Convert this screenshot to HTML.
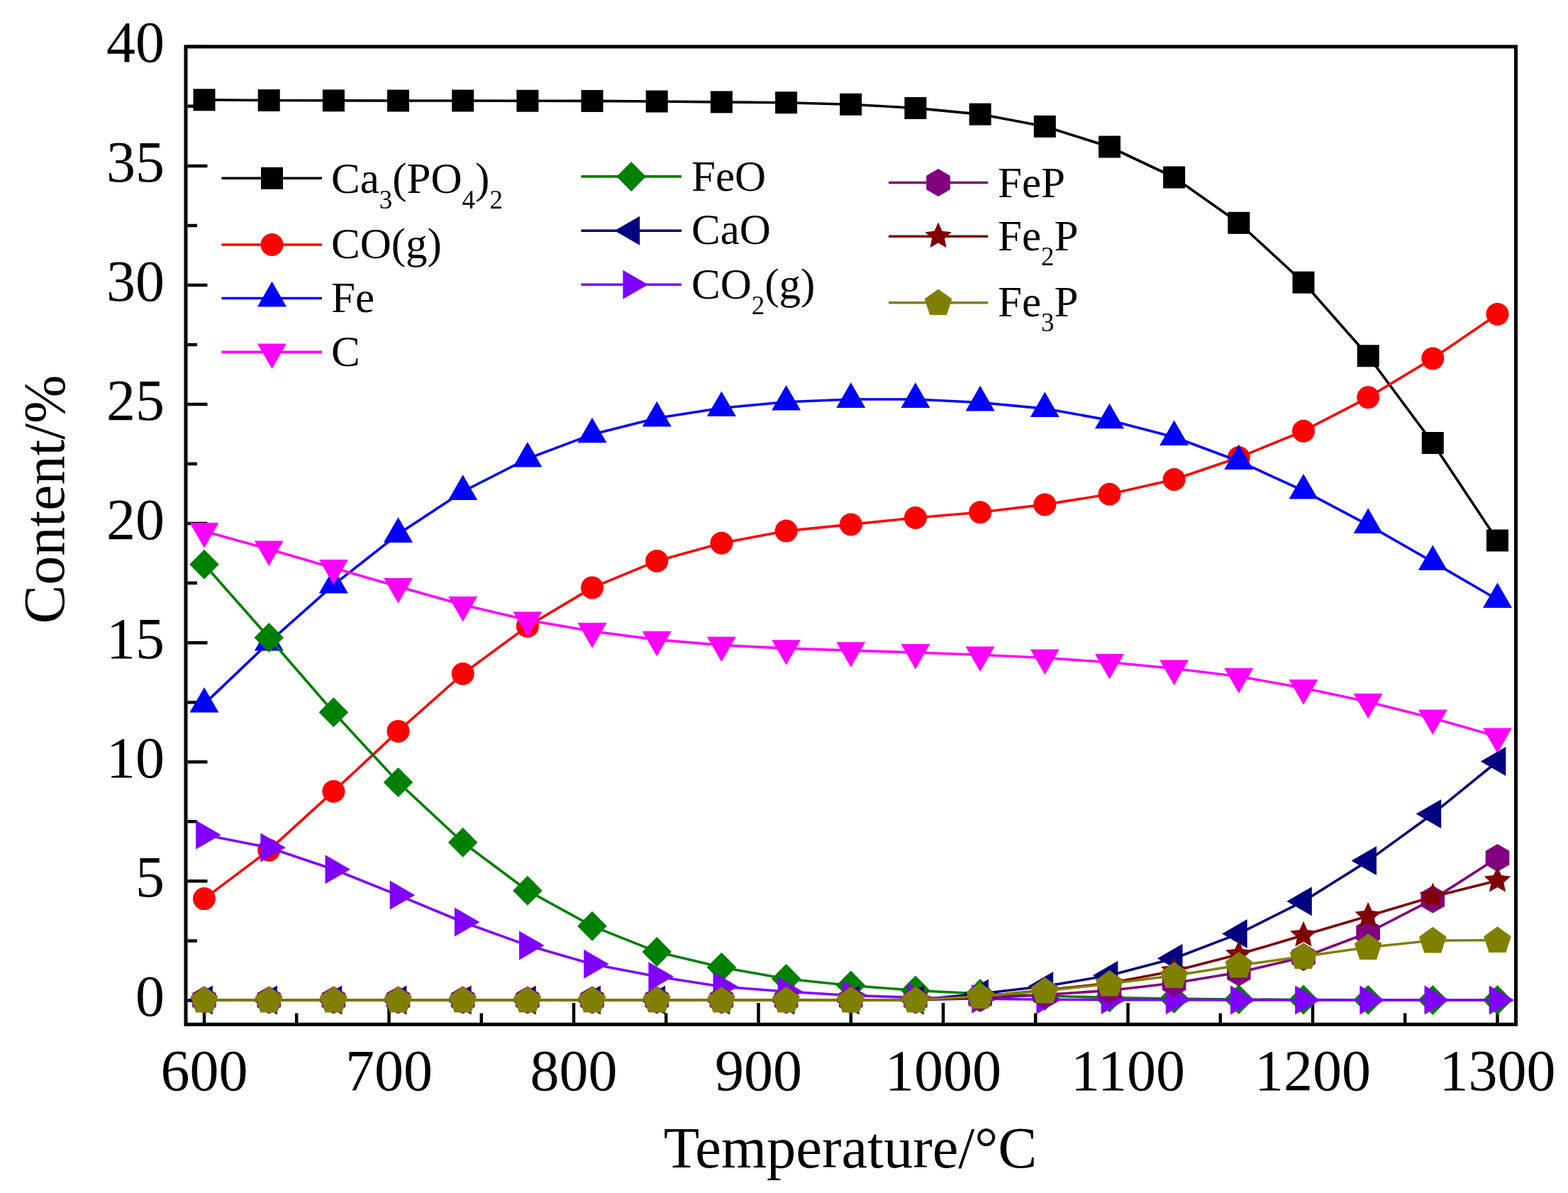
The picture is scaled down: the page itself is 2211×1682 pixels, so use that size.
<!DOCTYPE html><html><head><meta charset="utf-8"><title>Content vs Temperature</title><style>html,body{margin:0;padding:0;background:#fff;}svg{display:block;}text{font-family:"Liberation Serif","Times New Roman",serif;fill:#000;}</style></head><body>
<svg width="2211" height="1682" viewBox="0 0 2211 1682">
<rect width="2211" height="1682" fill="#fff"/>
<path d="M264.5,1410.4H292.5M264.5,1326.4H278M264.5,1242.3H292.5M264.5,1158.3H278M264.5,1074.2H292.5M264.5,990.2H278M264.5,906.2H292.5M264.5,822.1H278M264.5,738.1H292.5M264.5,654.1H278M264.5,570H292.5M264.5,486H278M264.5,402H292.5M264.5,317.9H278M264.5,233.9H292.5M264.5,149.8H278M264.5,65.8H292.5M288,1442V1414M418.2,1442V1428.5M548.5,1442V1414M678.8,1442V1428.5M809,1442V1414M939.2,1442V1428.5M1069.5,1442V1414M1199.8,1442V1428.5M1330,1442V1414M1460.2,1442V1428.5M1590.5,1442V1414M1720.8,1442V1428.5M1851,1442V1414M1981.2,1442V1428.5M2111.5,1442V1414" stroke="#000" stroke-width="4.5" fill="none"/>
<g fill="#000000" stroke="none"><path d="M288,140.8 L379.2,141.5 L470.4,141.8 L561.5,142 L652.7,142 L743.9,142.2 L835,142.4 L926.2,143 L1017.4,143.9 L1108.6,144.7 L1199.8,147.2 L1290.9,152.4 L1382.1,161.1 L1473.3,178.3 L1564.5,207 L1655.6,250 L1746.8,314.3 L1838,398.2 L1929.2,501.8 L2020.3,624.5 L2111.5,762" fill="none" stroke="#000000" stroke-width="3.6" stroke-linejoin="round"/>
<rect x="272.5" y="125.3" width="31" height="31"/>
<rect x="363.7" y="126" width="31" height="31"/>
<rect x="454.9" y="126.3" width="31" height="31"/>
<rect x="546" y="126.5" width="31" height="31"/>
<rect x="637.2" y="126.5" width="31" height="31"/>
<rect x="728.4" y="126.7" width="31" height="31"/>
<rect x="819.5" y="126.9" width="31" height="31"/>
<rect x="910.7" y="127.5" width="31" height="31"/>
<rect x="1001.9" y="128.4" width="31" height="31"/>
<rect x="1093.1" y="129.2" width="31" height="31"/>
<rect x="1184.2" y="131.7" width="31" height="31"/>
<rect x="1275.4" y="136.9" width="31" height="31"/>
<rect x="1366.6" y="145.6" width="31" height="31"/>
<rect x="1457.8" y="162.8" width="31" height="31"/>
<rect x="1549" y="191.5" width="31" height="31"/>
<rect x="1640.1" y="234.5" width="31" height="31"/>
<rect x="1731.3" y="298.8" width="31" height="31"/>
<rect x="1822.5" y="382.7" width="31" height="31"/>
<rect x="1913.7" y="486.3" width="31" height="31"/>
<rect x="2004.8" y="609" width="31" height="31"/>
<rect x="2096" y="746.5" width="31" height="31"/>
</g>
<g fill="#ff0000" stroke="none"><path d="M288,1267.1 L379.2,1198.6 L470.4,1115.7 L561.5,1030.9 L652.7,950 L743.9,882.9 L835,828.6 L926.2,790.9 L1017.4,765.7 L1108.6,748.6 L1199.8,739.4 L1290.9,730 L1382.1,722.3 L1473.3,711.4 L1564.5,696.7 L1655.6,676 L1746.8,645 L1838,607.7 L1929.2,560.3 L2020.3,505.4 L2111.5,442.9" fill="none" stroke="#ff0000" stroke-width="3.6" stroke-linejoin="round"/>
<circle cx="288" cy="1267.1" r="16"/>
<circle cx="379.2" cy="1198.6" r="16"/>
<circle cx="470.4" cy="1115.7" r="16"/>
<circle cx="561.5" cy="1030.9" r="16"/>
<circle cx="652.7" cy="950" r="16"/>
<circle cx="743.9" cy="882.9" r="16"/>
<circle cx="835" cy="828.6" r="16"/>
<circle cx="926.2" cy="790.9" r="16"/>
<circle cx="1017.4" cy="765.7" r="16"/>
<circle cx="1108.6" cy="748.6" r="16"/>
<circle cx="1199.8" cy="739.4" r="16"/>
<circle cx="1290.9" cy="730" r="16"/>
<circle cx="1382.1" cy="722.3" r="16"/>
<circle cx="1473.3" cy="711.4" r="16"/>
<circle cx="1564.5" cy="696.7" r="16"/>
<circle cx="1655.6" cy="676" r="16"/>
<circle cx="1746.8" cy="645" r="16"/>
<circle cx="1838" cy="607.7" r="16"/>
<circle cx="1929.2" cy="560.3" r="16"/>
<circle cx="2020.3" cy="505.4" r="16"/>
<circle cx="2111.5" cy="442.9" r="16"/>
</g>
<g fill="#0000ff" stroke="none"><path d="M288,992.6 L379.2,905.6 L470.4,824.7 L561.5,753 L652.7,693 L743.9,646.7 L835,612.4 L926.2,589.5 L1017.4,575.2 L1108.6,566.7 L1199.8,563 L1290.9,563 L1382.1,567.5 L1473.3,576.1 L1564.5,592.4 L1655.6,616.2 L1746.8,650.2 L1838,691.8 L1929.2,740.1 L2020.3,792.3 L2111.5,845.3" fill="none" stroke="#0000ff" stroke-width="3.6" stroke-linejoin="round"/>
<polygon points="288,968.9 308.5,1004.5 267.5,1004.5"/>
<polygon points="379.2,881.9 399.7,917.5 358.7,917.5"/>
<polygon points="470.4,801 490.9,836.6 449.8,836.6"/>
<polygon points="561.5,729.3 582,764.9 541,764.9"/>
<polygon points="652.7,669.3 673.2,704.9 632.2,704.9"/>
<polygon points="743.9,623 764.4,658.6 723.4,658.6"/>
<polygon points="835,588.7 855.6,624.2 814.5,624.2"/>
<polygon points="926.2,565.8 946.7,601.4 905.7,601.4"/>
<polygon points="1017.4,551.5 1037.9,587.1 996.9,587.1"/>
<polygon points="1108.6,543 1129.1,578.6 1088.1,578.6"/>
<polygon points="1199.8,539.3 1220.3,574.9 1179.2,574.9"/>
<polygon points="1290.9,539.3 1311.4,574.9 1270.4,574.9"/>
<polygon points="1382.1,543.8 1402.6,579.4 1361.6,579.4"/>
<polygon points="1473.3,552.4 1493.8,588 1452.8,588"/>
<polygon points="1564.5,568.7 1585,604.2 1543.9,604.2"/>
<polygon points="1655.6,592.5 1676.1,628.1 1635.1,628.1"/>
<polygon points="1746.8,626.5 1767.3,662.1 1726.3,662.1"/>
<polygon points="1838,668.1 1858.5,703.6 1817.5,703.6"/>
<polygon points="1929.2,716.4 1949.7,752 1908.6,752"/>
<polygon points="2020.3,768.6 2040.8,804.1 1999.8,804.1"/>
<polygon points="2111.5,821.6 2132,857.1 2091,857.1"/>
</g>
<g fill="#ff00ff" stroke="none"><path d="M288,749 L379.2,774.3 L470.4,800.7 L561.5,827 L652.7,852.8 L743.9,874.3 L835,890 L926.2,901.9 L1017.4,909.6 L1108.6,914.1 L1199.8,917.1 L1290.9,920 L1382.1,923.2 L1473.3,927.5 L1564.5,933.8 L1655.6,942.5 L1746.8,953.7 L1838,970 L1929.2,989.6 L2020.3,1012.4 L2111.5,1038.4" fill="none" stroke="#ff00ff" stroke-width="3.6" stroke-linejoin="round"/>
<polygon points="288,772.7 267.5,737.1 308.5,737.1"/>
<polygon points="379.2,798 358.7,762.4 399.7,762.4"/>
<polygon points="470.4,824.4 449.8,788.9 490.9,788.9"/>
<polygon points="561.5,850.7 541,815.1 582,815.1"/>
<polygon points="652.7,876.5 632.2,840.9 673.2,840.9"/>
<polygon points="743.9,898 723.4,862.4 764.4,862.4"/>
<polygon points="835,913.7 814.5,878.1 855.6,878.1"/>
<polygon points="926.2,925.6 905.7,890 946.7,890"/>
<polygon points="1017.4,933.3 996.9,897.8 1037.9,897.8"/>
<polygon points="1108.6,937.8 1088.1,902.2 1129.1,902.2"/>
<polygon points="1199.8,940.8 1179.2,905.2 1220.3,905.2"/>
<polygon points="1290.9,943.7 1270.4,908.1 1311.4,908.1"/>
<polygon points="1382.1,946.9 1361.6,911.4 1402.6,911.4"/>
<polygon points="1473.3,951.2 1452.8,915.6 1493.8,915.6"/>
<polygon points="1564.5,957.5 1543.9,921.9 1585,921.9"/>
<polygon points="1655.6,966.2 1635.1,930.6 1676.1,930.6"/>
<polygon points="1746.8,977.4 1726.3,941.9 1767.3,941.9"/>
<polygon points="1838,993.7 1817.5,958.1 1858.5,958.1"/>
<polygon points="1929.2,1013.3 1908.6,977.8 1949.7,977.8"/>
<polygon points="2020.3,1036.1 1999.8,1000.5 2040.8,1000.5"/>
<polygon points="2111.5,1062.1 2091,1026.6 2132,1026.6"/>
</g>
<g fill="#008000" stroke="none"><path d="M288,795.7 L379.2,899 L470.4,1004.3 L561.5,1102.9 L652.7,1187.7 L743.9,1255.7 L835,1305.7 L926.2,1341.9 L1017.4,1363.8 L1108.6,1380 L1199.8,1389.5 L1290.9,1396.5 L1382.1,1401 L1473.3,1404 L1564.5,1406.5 L1655.6,1408 L1746.8,1409 L1838,1409.5 L1929.2,1409.8 L2020.3,1410 L2111.5,1410" fill="none" stroke="#008000" stroke-width="3.6" stroke-linejoin="round"/>
<polygon points="288,774.7 308.8,795.7 288,816.7 267.2,795.7"/>
<polygon points="379.2,878 400,899 379.2,920 358.4,899"/>
<polygon points="470.4,983.3 491.2,1004.3 470.4,1025.3 449.6,1004.3"/>
<polygon points="561.5,1081.9 582.3,1102.9 561.5,1123.9 540.7,1102.9"/>
<polygon points="652.7,1166.7 673.5,1187.7 652.7,1208.7 631.9,1187.7"/>
<polygon points="743.9,1234.7 764.7,1255.7 743.9,1276.7 723.1,1255.7"/>
<polygon points="835,1284.7 855.8,1305.7 835,1326.7 814.2,1305.7"/>
<polygon points="926.2,1320.9 947,1341.9 926.2,1362.9 905.4,1341.9"/>
<polygon points="1017.4,1342.8 1038.2,1363.8 1017.4,1384.8 996.6,1363.8"/>
<polygon points="1108.6,1359 1129.4,1380 1108.6,1401 1087.8,1380"/>
<polygon points="1199.8,1368.5 1220.5,1389.5 1199.8,1410.5 1179,1389.5"/>
<polygon points="1290.9,1375.5 1311.7,1396.5 1290.9,1417.5 1270.1,1396.5"/>
<polygon points="1382.1,1380 1402.9,1401 1382.1,1422 1361.3,1401"/>
<polygon points="1473.3,1383 1494.1,1404 1473.3,1425 1452.5,1404"/>
<polygon points="1564.5,1385.5 1585.2,1406.5 1564.5,1427.5 1543.7,1406.5"/>
<polygon points="1655.6,1387 1676.4,1408 1655.6,1429 1634.8,1408"/>
<polygon points="1746.8,1388 1767.6,1409 1746.8,1430 1726,1409"/>
<polygon points="1838,1388.5 1858.8,1409.5 1838,1430.5 1817.2,1409.5"/>
<polygon points="1929.2,1388.8 1950,1409.8 1929.2,1430.8 1908.4,1409.8"/>
<polygon points="2020.3,1389 2041.1,1410 2020.3,1431 1999.5,1410"/>
<polygon points="2111.5,1389 2132.3,1410 2111.5,1431 2090.7,1410"/>
</g>
<g fill="#000080" stroke="none"><path d="M288,1410 L379.2,1410 L470.4,1410 L561.5,1410 L652.7,1410 L743.9,1410 L835,1410 L926.2,1410 L1017.4,1410 L1108.6,1410 L1199.8,1410 L1290.9,1410 L1382.1,1401 L1473.3,1390.5 L1564.5,1375.3 L1655.6,1351.2 L1746.8,1316.4 L1838,1270.7 L1929.2,1213.6 L2020.3,1147.5 L2111.5,1073.5" fill="none" stroke="#000080" stroke-width="3.6" stroke-linejoin="round"/>
<polygon points="264.3,1410 299.9,1389.5 299.8,1430.5"/>
<polygon points="355.5,1410 391,1389.5 391,1430.5"/>
<polygon points="446.7,1410 482.2,1389.5 482.2,1430.5"/>
<polygon points="537.8,1410 573.4,1389.5 573.4,1430.5"/>
<polygon points="629,1410 664.6,1389.5 664.6,1430.5"/>
<polygon points="720.2,1410 755.7,1389.5 755.7,1430.5"/>
<polygon points="811.3,1410 846.9,1389.5 846.9,1430.5"/>
<polygon points="902.5,1410 938.1,1389.5 938.1,1430.5"/>
<polygon points="993.7,1410 1029.2,1389.5 1029.2,1430.5"/>
<polygon points="1084.9,1410 1120.4,1389.5 1120.4,1430.5"/>
<polygon points="1176,1410 1211.6,1389.5 1211.6,1430.5"/>
<polygon points="1267.2,1410 1302.8,1389.5 1302.8,1430.5"/>
<polygon points="1358.4,1401 1393.9,1380.5 1393.9,1421.5"/>
<polygon points="1449.6,1390.5 1485.1,1370 1485.1,1411"/>
<polygon points="1540.8,1375.3 1576.3,1354.8 1576.3,1395.8"/>
<polygon points="1631.9,1351.2 1667.5,1330.7 1667.5,1371.7"/>
<polygon points="1723.1,1316.4 1758.6,1295.9 1758.6,1336.9"/>
<polygon points="1814.3,1270.7 1849.8,1250.2 1849.8,1291.2"/>
<polygon points="1905.5,1213.6 1941,1193.1 1941,1234.1"/>
<polygon points="1996.6,1147.5 2032.2,1127 2032.2,1168"/>
<polygon points="2087.8,1073.5 2123.3,1053 2123.3,1094"/>
</g>
<g fill="#8000ff" stroke="none"><path d="M288,1177.1 L379.2,1195 L470.4,1225.7 L561.5,1262.1 L652.7,1300 L743.9,1332.9 L835,1359.3 L926.2,1376.7 L1017.4,1391 L1108.6,1398 L1199.8,1403.5 L1290.9,1406.5 L1382.1,1408.3 L1473.3,1409.2 L1564.5,1409.6 L1655.6,1409.8 L1746.8,1410 L1838,1410 L1929.2,1410 L2020.3,1410 L2111.5,1410" fill="none" stroke="#8000ff" stroke-width="3.6" stroke-linejoin="round"/>
<polygon points="311.7,1177.1 276.1,1197.6 276.1,1156.6"/>
<polygon points="402.9,1195 367.3,1215.5 367.3,1174.5"/>
<polygon points="494.1,1225.7 458.5,1246.2 458.5,1205.2"/>
<polygon points="585.2,1262.1 549.7,1282.6 549.7,1241.6"/>
<polygon points="676.4,1300 640.9,1320.5 640.9,1279.5"/>
<polygon points="767.6,1332.9 732,1353.4 732,1312.4"/>
<polygon points="858.8,1359.3 823.2,1379.8 823.2,1338.8"/>
<polygon points="949.9,1376.7 914.4,1397.2 914.4,1356.2"/>
<polygon points="1041.1,1391 1005.5,1411.5 1005.5,1370.5"/>
<polygon points="1132.3,1398 1096.7,1418.5 1096.7,1377.5"/>
<polygon points="1223.5,1403.5 1187.9,1424 1187.9,1383"/>
<polygon points="1314.6,1406.5 1279.1,1427 1279.1,1386"/>
<polygon points="1405.8,1408.3 1370.2,1428.8 1370.2,1387.8"/>
<polygon points="1497,1409.2 1461.4,1429.7 1461.4,1388.7"/>
<polygon points="1588.2,1409.6 1552.6,1430.1 1552.6,1389.1"/>
<polygon points="1679.3,1409.8 1643.8,1430.3 1643.8,1389.3"/>
<polygon points="1770.5,1410 1735,1430.5 1735,1389.5"/>
<polygon points="1861.7,1410 1826.1,1430.5 1826.1,1389.5"/>
<polygon points="1952.9,1410 1917.3,1430.5 1917.3,1389.5"/>
<polygon points="2044,1410 2008.5,1430.5 2008.5,1389.5"/>
<polygon points="2135.2,1410 2099.7,1430.5 2099.7,1389.5"/>
</g>
<g fill="#800080" stroke="none"><path d="M288,1410 L379.2,1410 L470.4,1410 L561.5,1410 L652.7,1410 L743.9,1410 L835,1410 L926.2,1410 L1017.4,1410 L1108.6,1410 L1199.8,1410 L1290.9,1410 L1382.1,1407.5 L1473.3,1402.5 L1564.5,1396.5 L1655.6,1386 L1746.8,1371 L1838,1349.5 L1929.2,1315 L2020.3,1268 L2111.5,1209.5" fill="none" stroke="#800080" stroke-width="3.6" stroke-linejoin="round"/>
<polygon points="288,1390.6 304.8,1400.3 304.8,1419.7 288,1429.4 271.2,1419.7 271.2,1400.3"/>
<polygon points="379.2,1390.6 396,1400.3 396,1419.7 379.2,1429.4 362.4,1419.7 362.4,1400.3"/>
<polygon points="470.4,1390.6 487.2,1400.3 487.2,1419.7 470.4,1429.4 453.5,1419.7 453.5,1400.3"/>
<polygon points="561.5,1390.6 578.3,1400.3 578.3,1419.7 561.5,1429.4 544.7,1419.7 544.7,1400.3"/>
<polygon points="652.7,1390.6 669.5,1400.3 669.5,1419.7 652.7,1429.4 635.9,1419.7 635.9,1400.3"/>
<polygon points="743.9,1390.6 760.7,1400.3 760.7,1419.7 743.9,1429.4 727.1,1419.7 727.1,1400.3"/>
<polygon points="835,1390.6 851.9,1400.3 851.9,1419.7 835,1429.4 818.2,1419.7 818.2,1400.3"/>
<polygon points="926.2,1390.6 943,1400.3 943,1419.7 926.2,1429.4 909.4,1419.7 909.4,1400.3"/>
<polygon points="1017.4,1390.6 1034.2,1400.3 1034.2,1419.7 1017.4,1429.4 1000.6,1419.7 1000.6,1400.3"/>
<polygon points="1108.6,1390.6 1125.4,1400.3 1125.4,1419.7 1108.6,1429.4 1091.8,1419.7 1091.8,1400.3"/>
<polygon points="1199.8,1390.6 1216.6,1400.3 1216.6,1419.7 1199.8,1429.4 1182.9,1419.7 1182.9,1400.3"/>
<polygon points="1290.9,1390.6 1307.7,1400.3 1307.7,1419.7 1290.9,1429.4 1274.1,1419.7 1274.1,1400.3"/>
<polygon points="1382.1,1388.1 1398.9,1397.8 1398.9,1417.2 1382.1,1426.9 1365.3,1417.2 1365.3,1397.8"/>
<polygon points="1473.3,1383.1 1490.1,1392.8 1490.1,1412.2 1473.3,1421.9 1456.5,1412.2 1456.5,1392.8"/>
<polygon points="1564.5,1377.1 1581.3,1386.8 1581.3,1406.2 1564.5,1415.9 1547.6,1406.2 1547.6,1386.8"/>
<polygon points="1655.6,1366.6 1672.4,1376.3 1672.4,1395.7 1655.6,1405.4 1638.8,1395.7 1638.8,1376.3"/>
<polygon points="1746.8,1351.6 1763.6,1361.3 1763.6,1380.7 1746.8,1390.4 1730,1380.7 1730,1361.3"/>
<polygon points="1838,1330.1 1854.8,1339.8 1854.8,1359.2 1838,1368.9 1821.2,1359.2 1821.2,1339.8"/>
<polygon points="1929.2,1295.6 1946,1305.3 1946,1324.7 1929.2,1334.4 1912.3,1324.7 1912.3,1305.3"/>
<polygon points="2020.3,1248.6 2037.1,1258.3 2037.1,1277.7 2020.3,1287.4 2003.5,1277.7 2003.5,1258.3"/>
<polygon points="2111.5,1190.1 2128.3,1199.8 2128.3,1219.2 2111.5,1228.9 2094.7,1219.2 2094.7,1199.8"/>
</g>
<g fill="#800000" stroke="none"><path d="M288,1410 L379.2,1410 L470.4,1410 L561.5,1410 L652.7,1410 L743.9,1410 L835,1410 L926.2,1410 L1017.4,1410 L1108.6,1410 L1199.8,1410 L1290.9,1410 L1382.1,1405 L1473.3,1396 L1564.5,1386 L1655.6,1369 L1746.8,1345.5 L1838,1318.5 L1929.2,1291.5 L2020.3,1264.3 L2111.5,1241.6" fill="none" stroke="#800000" stroke-width="3.6" stroke-linejoin="round"/>
<polygon points="288,1390.2 293.5,1402.5 306.8,1403.9 296.9,1412.9 299.6,1426 288,1419.3 276.4,1426 279.1,1412.9 269.2,1403.9 282.5,1402.5"/>
<polygon points="379.2,1390.2 384.6,1402.5 398,1403.9 388,1412.9 390.8,1426 379.2,1419.3 367.5,1426 370.3,1412.9 360.3,1403.9 373.7,1402.5"/>
<polygon points="470.4,1390.2 475.8,1402.5 489.2,1403.9 479.2,1412.9 482,1426 470.4,1419.3 458.7,1426 461.5,1412.9 451.5,1403.9 464.9,1402.5"/>
<polygon points="561.5,1390.2 567,1402.5 580.4,1403.9 570.4,1412.9 573.2,1426 561.5,1419.3 549.9,1426 552.7,1412.9 542.7,1403.9 556.1,1402.5"/>
<polygon points="652.7,1390.2 658.2,1402.5 671.5,1403.9 661.6,1412.9 664.3,1426 652.7,1419.3 641.1,1426 643.8,1412.9 633.9,1403.9 647.2,1402.5"/>
<polygon points="743.9,1390.2 749.3,1402.5 762.7,1403.9 752.7,1412.9 755.5,1426 743.9,1419.3 732.2,1426 735,1412.9 725,1403.9 738.4,1402.5"/>
<polygon points="835,1390.2 840.5,1402.5 853.9,1403.9 843.9,1412.9 846.7,1426 835,1419.3 823.4,1426 826.2,1412.9 816.2,1403.9 829.6,1402.5"/>
<polygon points="926.2,1390.2 931.7,1402.5 945.1,1403.9 935.1,1412.9 937.9,1426 926.2,1419.3 914.6,1426 917.4,1412.9 907.4,1403.9 920.8,1402.5"/>
<polygon points="1017.4,1390.2 1022.9,1402.5 1036.2,1403.9 1026.3,1412.9 1029,1426 1017.4,1419.3 1005.8,1426 1008.5,1412.9 998.6,1403.9 1011.9,1402.5"/>
<polygon points="1108.6,1390.2 1114,1402.5 1127.4,1403.9 1117.4,1412.9 1120.2,1426 1108.6,1419.3 1096.9,1426 1099.7,1412.9 1089.7,1403.9 1103.1,1402.5"/>
<polygon points="1199.8,1390.2 1205.2,1402.5 1218.6,1403.9 1208.6,1412.9 1211.4,1426 1199.8,1419.3 1188.1,1426 1190.9,1412.9 1180.9,1403.9 1194.3,1402.5"/>
<polygon points="1290.9,1390.2 1296.4,1402.5 1309.8,1403.9 1299.8,1412.9 1302.6,1426 1290.9,1419.3 1279.3,1426 1282.1,1412.9 1272.1,1403.9 1285.5,1402.5"/>
<polygon points="1382.1,1385.2 1387.6,1397.5 1400.9,1398.9 1391,1407.9 1393.7,1421 1382.1,1414.3 1370.5,1421 1373.2,1407.9 1363.3,1398.9 1376.6,1397.5"/>
<polygon points="1473.3,1376.2 1478.7,1388.5 1492.1,1389.9 1482.1,1398.9 1484.9,1412 1473.3,1405.3 1461.6,1412 1464.4,1398.9 1454.4,1389.9 1467.8,1388.5"/>
<polygon points="1564.5,1366.2 1569.9,1378.5 1583.3,1379.9 1573.3,1388.9 1576.1,1402 1564.5,1395.3 1552.8,1402 1555.6,1388.9 1545.6,1379.9 1559,1378.5"/>
<polygon points="1655.6,1349.2 1661.1,1361.5 1674.5,1362.9 1664.5,1371.9 1667.3,1385 1655.6,1378.3 1644,1385 1646.8,1371.9 1636.8,1362.9 1650.2,1361.5"/>
<polygon points="1746.8,1325.7 1752.3,1338 1765.6,1339.4 1755.7,1348.4 1758.4,1361.5 1746.8,1354.8 1735.2,1361.5 1737.9,1348.4 1728,1339.4 1741.3,1338"/>
<polygon points="1838,1298.7 1843.4,1311 1856.8,1312.4 1846.8,1321.4 1849.6,1334.5 1838,1327.8 1826.3,1334.5 1829.1,1321.4 1819.1,1312.4 1832.5,1311"/>
<polygon points="1929.2,1271.7 1934.6,1284 1948,1285.4 1938,1294.4 1940.8,1307.5 1929.2,1300.8 1917.5,1307.5 1920.3,1294.4 1910.3,1285.4 1923.7,1284"/>
<polygon points="2020.3,1244.5 2025.8,1256.8 2039.2,1258.2 2029.2,1267.2 2032,1280.3 2020.3,1273.6 2008.7,1280.3 2011.5,1267.2 2001.5,1258.2 2014.9,1256.8"/>
<polygon points="2111.5,1221.8 2117,1234.1 2130.3,1235.5 2120.4,1244.5 2123.1,1257.6 2111.5,1250.9 2099.9,1257.6 2102.6,1244.5 2092.7,1235.5 2106,1234.1"/>
</g>
<g fill="#808000" stroke="none"><path d="M288,1410 L379.2,1410 L470.4,1410 L561.5,1410 L652.7,1410 L743.9,1410 L835,1410 L926.2,1410 L1017.4,1410 L1108.6,1410 L1199.8,1410 L1290.9,1410 L1382.1,1404.5 L1473.3,1397 L1564.5,1387 L1655.6,1375.5 L1746.8,1361 L1838,1348.5 L1929.2,1335.5 L2020.3,1326 L2111.5,1325.5" fill="none" stroke="#808000" stroke-width="3.6" stroke-linejoin="round"/>
<polygon points="288,1390.7 307.3,1404.7 299.9,1427.4 276.1,1427.4 268.7,1404.7"/>
<polygon points="379.2,1390.7 398.5,1404.7 391.1,1427.4 367.2,1427.4 359.9,1404.7"/>
<polygon points="470.4,1390.7 489.7,1404.7 482.3,1427.4 458.4,1427.4 451,1404.7"/>
<polygon points="561.5,1390.7 580.8,1404.7 573.5,1427.4 549.6,1427.4 542.2,1404.7"/>
<polygon points="652.7,1390.7 672,1404.7 664.6,1427.4 640.8,1427.4 633.4,1404.7"/>
<polygon points="743.9,1390.7 763.2,1404.7 755.8,1427.4 731.9,1427.4 724.6,1404.7"/>
<polygon points="835,1390.7 854.4,1404.7 847,1427.4 823.1,1427.4 815.7,1404.7"/>
<polygon points="926.2,1390.7 945.5,1404.7 938.2,1427.4 914.3,1427.4 906.9,1404.7"/>
<polygon points="1017.4,1390.7 1036.7,1404.7 1029.3,1427.4 1005.5,1427.4 998.1,1404.7"/>
<polygon points="1108.6,1390.7 1127.9,1404.7 1120.5,1427.4 1096.6,1427.4 1089.3,1404.7"/>
<polygon points="1199.8,1390.7 1219.1,1404.7 1211.7,1427.4 1187.8,1427.4 1180.4,1404.7"/>
<polygon points="1290.9,1390.7 1310.2,1404.7 1302.9,1427.4 1279,1427.4 1271.6,1404.7"/>
<polygon points="1382.1,1385.2 1401.4,1399.2 1394,1421.9 1370.2,1421.9 1362.8,1399.2"/>
<polygon points="1473.3,1377.7 1492.6,1391.7 1485.2,1414.4 1461.3,1414.4 1454,1391.7"/>
<polygon points="1564.5,1367.7 1583.8,1381.7 1576.4,1404.4 1552.5,1404.4 1545.1,1381.7"/>
<polygon points="1655.6,1356.2 1674.9,1370.2 1667.6,1392.9 1643.7,1392.9 1636.3,1370.2"/>
<polygon points="1746.8,1341.7 1766.1,1355.7 1758.7,1378.4 1734.9,1378.4 1727.5,1355.7"/>
<polygon points="1838,1329.2 1857.3,1343.2 1849.9,1365.9 1826,1365.9 1818.7,1343.2"/>
<polygon points="1929.2,1316.2 1948.5,1330.2 1941.1,1352.9 1917.2,1352.9 1909.8,1330.2"/>
<polygon points="2020.3,1306.7 2039.6,1320.7 2032.3,1343.4 2008.4,1343.4 2001,1320.7"/>
<polygon points="2111.5,1306.2 2130.8,1320.2 2123.4,1342.9 2099.6,1342.9 2092.2,1320.2"/>
</g>
<rect x="262" y="65.8" width="1875.5" height="1378.5" fill="none" stroke="#000" stroke-width="5"/>
<g font-size="82"><text x="232" y="1432" text-anchor="end">0</text><text x="232" y="1263.9" text-anchor="end">5</text><text x="232" y="1095.8" text-anchor="end">10</text><text x="232" y="927.8" text-anchor="end">15</text><text x="232" y="759.7" text-anchor="end">20</text><text x="232" y="591.6" text-anchor="end">25</text><text x="232" y="423.6" text-anchor="end">30</text><text x="232" y="255.5" text-anchor="end">35</text><text x="232" y="87.4" text-anchor="end">40</text><text x="288" y="1537" text-anchor="middle">600</text><text x="548.5" y="1537" text-anchor="middle">700</text><text x="809" y="1537" text-anchor="middle">800</text><text x="1069.5" y="1537" text-anchor="middle">900</text><text x="1330" y="1537" text-anchor="middle">1000</text><text x="1590.5" y="1537" text-anchor="middle">1100</text><text x="1851" y="1537" text-anchor="middle">1200</text><text x="2111.5" y="1537" text-anchor="middle">1300</text></g>
<text x="935.7" y="1646" font-size="82.5">Temperature/°C</text>
<text transform="translate(89.5,879.4) rotate(-90)" font-size="82">Content/%</text>
<g fill="#000000"><path d="M312.4,251.3H454" stroke="#000000" stroke-width="3.6"/><rect x="368" y="235.8" width="31" height="31"/></g>
<text x="467" y="272" font-size="61">Ca<tspan font-size="37" dy="21.5">3</tspan><tspan dy="-21.5">(PO</tspan><tspan font-size="37" dy="21.5">4</tspan><tspan dy="-21.5">)</tspan><tspan font-size="37" dy="21.5">2</tspan></text>
<g fill="#ff0000"><path d="M312.4,345H454" stroke="#ff0000" stroke-width="3.6"/><circle cx="383.5" cy="345" r="16"/></g>
<text x="467" y="364" font-size="61">CO(g)</text>
<g fill="#0000ff"><path d="M312.4,420.5H454" stroke="#0000ff" stroke-width="3.6"/><polygon points="383.5,396.8 404,432.4 363,432.4"/></g>
<text x="467" y="440.4" font-size="61">Fe</text>
<g fill="#ff00ff"><path d="M312.4,496.4H454" stroke="#ff00ff" stroke-width="3.6"/><polygon points="383.5,520.1 363,484.5 404,484.5"/></g>
<text x="467" y="516" font-size="61">C</text>
<g fill="#008000"><path d="M819.4,248.9H961" stroke="#008000" stroke-width="3.6"/><polygon points="890.2,227.9 911,248.9 890.2,269.9 869.4,248.9"/></g>
<text x="975" y="268.7" font-size="61">FeO</text>
<g fill="#000080"><path d="M819.4,325.3H961" stroke="#000080" stroke-width="3.6"/><polygon points="866.5,325.3 902.1,304.8 902.1,345.8"/></g>
<text x="975" y="344" font-size="61">CaO</text>
<g fill="#8000ff"><path d="M819.4,401.3H961" stroke="#8000ff" stroke-width="3.6"/><polygon points="913.9,401.3 878.4,421.8 878.4,380.8"/></g>
<text x="975" y="421" font-size="61">CO<tspan font-size="37" dy="21.5">2</tspan><tspan dy="-21.5">(g)</tspan></text>
<g fill="#800080"><path d="M1253,257.5H1393.3" stroke="#800080" stroke-width="3.6"/><polygon points="1323,238.1 1339.8,247.8 1339.8,267.2 1323,276.9 1306.2,267.2 1306.2,247.8"/></g>
<text x="1407" y="277.5" font-size="61">FeP</text>
<g fill="#800000"><path d="M1253,333.3H1393.3" stroke="#800000" stroke-width="3.6"/><polygon points="1323,313.5 1328.5,325.8 1341.8,327.2 1331.9,336.2 1334.6,349.3 1323,342.6 1311.4,349.3 1314.1,336.2 1304.2,327.2 1317.5,325.8"/></g>
<text x="1407" y="352.5" font-size="61">Fe<tspan font-size="37" dy="21.5">2</tspan><tspan dy="-21.5">P</tspan></text>
<g fill="#808000"><path d="M1253,426.7H1393.3" stroke="#808000" stroke-width="3.6"/><polygon points="1323,407.4 1342.3,421.4 1334.9,444.1 1311.1,444.1 1303.7,421.4"/></g>
<text x="1407" y="445.8" font-size="61">Fe<tspan font-size="37" dy="21.5">3</tspan><tspan dy="-21.5">P</tspan></text>
</svg></body></html>
